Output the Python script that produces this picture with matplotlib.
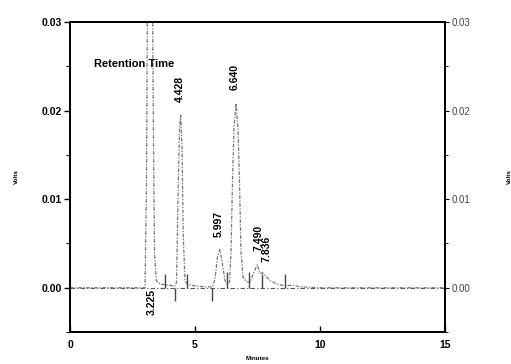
import matplotlib
matplotlib.use("Agg")
import matplotlib.pyplot as plt
from matplotlib.ticker import MultipleLocator

# Chromatogram trace (minutes, volts)
time_min = [0.0, 3.00, 3.06, 3.10, 3.15, 3.225, 3.29, 3.33, 3.38, 3.45, 3.6, 3.9, 4.2,
            4.26, 4.32, 4.38, 4.428, 4.48, 4.53, 4.60, 4.7, 5.0, 5.4, 5.7,
            5.80, 5.90, 5.997, 6.08, 6.20, 6.30, 6.38, 6.44, 6.50, 6.56, 6.64, 6.72,
            6.78, 6.84, 6.92, 7.05, 7.20, 7.32, 7.490, 7.60, 7.70, 7.836, 8.0, 8.3,
            8.6, 8.9, 9.2, 10.0, 12.0, 15.0]
volts = [0.0, 0.0, 0.012, 0.035, 0.045, 0.05, 0.04, 0.02, 0.004, 0.0008, 0.0004, 0.0003, 0.0002,
         0.0006, 0.010, 0.018, 0.0195, 0.016, 0.006, 0.0008, 0.0004, 0.0002, 0.0001, 0.0001,
         0.0010, 0.0035, 0.0043, 0.0030, 0.0008, 0.0004, 0.0006, 0.004, 0.012, 0.018, 0.0208, 0.018,
         0.012, 0.004, 0.0012, 0.0007, 0.0006, 0.0015, 0.0026, 0.0016, 0.0017, 0.0013, 0.0008, 0.0004,
         0.0002, 0.0003, 0.0001, 0.0, 0.0, 0.0]

# Retention-time labels
rt_labels = ["3.225", "4.428", "5.997", "6.640", "7.490", "7.836"]
rt_x = [3.27, 4.40, 5.93, 6.60, 7.53, 7.87]
rt_y = [-0.0002, 0.0210, 0.0057, 0.0223, 0.0041, 0.0029]
rt_va = ["top", "bottom", "bottom", "bottom", "bottom", "bottom"]

# Integration event markers (time, start, end)
mark_t = [3.80, 4.20, 4.68, 5.68, 6.27, 7.16, 7.68, 8.60]
mark_lo = [0.0, -0.0015, 0.0, -0.0015, 0.0, 0.0, 0.0, 0.0]
mark_hi = [0.0015, 0.0, 0.0015, 0.0, 0.0018, 0.0018, 0.0015, 0.0015]

yticks = [0.00, 0.01, 0.02, 0.03]
ytick_labels = ["0.00", "0.01", "0.02", "0.03"]
xticks = [0, 5, 10, 15]

plt.rcParams['font.family'] = ['Liberation Sans', 'DejaVu Sans']

fig = plt.figure(figsize=(5.11, 3.64), dpi=100)
ax = fig.add_axes([70/511, 1 - 332/364, 375/511, 310/364])

ax.axhline(0, color='#555555', lw=0.8, ls=(0, (4, 2, 1, 2)))
ax.plot(time_min, volts, color='#777777', lw=0.9, ls=(0, (3, 1.2, 1, 1.2)), clip_on=True)
ax.vlines(mark_t, mark_lo, mark_hi, color='#444444', lw=1.0)

for lab, x, y, va in zip(rt_labels, rt_x, rt_y, rt_va):
    ax.text(x, y, lab, rotation=90, ha='center', va=va, fontsize=7.5, fontweight='bold')

ax.text(0.95, 0.0253, "Retention Time", ha='left', va='center', fontsize=8, fontweight='bold')

ax.set_xlim(0, 15)
ax.set_ylim(-0.005, 0.03)
ax.set_xticks(xticks)
ax.set_xticklabels([str(v) for v in xticks], fontsize=7.5, fontweight='bold')
ax.set_yticks(yticks)
ax.set_yticklabels(ytick_labels, fontsize=7.5, fontweight='bold')
ax.yaxis.set_minor_locator(MultipleLocator(0.005))
ax.tick_params(axis='x', direction='in', length=4, width=1.0, pad=6)
ax.tick_params(axis='y', which='major', direction='out', length=4, width=1.0, pad=2)
ax.tick_params(axis='y', which='minor', direction='out', length=3, width=0.8)
for s in ax.spines.values():
    s.set_linewidth(1.3)
ax.set_xlabel("Minutes", fontsize=4.5, fontweight='bold', labelpad=4)
ax.set_ylabel("Volts", fontsize=4.5, fontweight='bold', labelpad=16)

ax2 = ax.twinx()
ax2.set_ylim(-0.005, 0.03)
ax2.set_yticks(yticks)
ax2.set_yticklabels(ytick_labels, fontsize=7, color='#444444')
ax2.yaxis.set_minor_locator(MultipleLocator(0.005))
ax2.tick_params(axis='y', which='major', direction='out', length=3, width=0.8, pad=2)
ax2.tick_params(axis='y', which='minor', direction='out', length=2, width=0.6)
ax2.set_ylabel("Volts", fontsize=4.5, fontweight='bold', labelpad=26)
for s in ax2.spines.values():
    s.set_linewidth(1.3)

fig.savefig("out.png", dpi=100)
